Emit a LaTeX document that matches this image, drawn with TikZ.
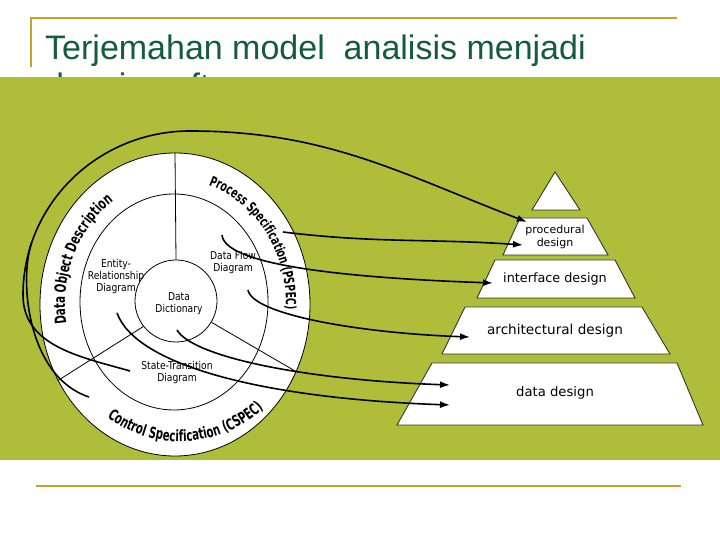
\documentclass[tikz,border=0pt]{standalone}
\usepackage{fontspec}
\setmainfont{Liberation Sans}
\newfontfamily\titlefamily{Liberation Sans}
\newfontfamily\diafamily{DejaVu Sans}
\newfontfamily\condfamily{DejaVu Sans}[FakeStretch=0.85]
\newfontfamily\ringfamily{DejaVu Sans Bold}[FakeStretch=0.66]
\usepackage{tikz}
\usetikzlibrary{shapes.geometric, arrows.meta, positioning, decorations.text}
\usepackage{xcolor}
\definecolor{cOlive}{RGB}{174,190,58}
\definecolor{cGold}{RGB}{201,162,42}
\definecolor{cTitle}{RGB}{20,92,62}
\newcommand\ringbig{\ringfamily\fontsize{15.5}{17}\selectfont}
\newcommand\ringsmall{\ringfamily\fontsize{14}{16}\selectfont}
\tikzset{
  goldline/.style={draw=cGold, line width=2.6pt},
  ringline/.style={draw=black, line width=0.8pt},
  tier/.style={draw=black!80, line width=0.9pt, fill=white},
  circlabel/.style={align=center, inner sep=0pt,
                    font=\condfamily\fontsize{10.8}{12}\selectfont},
  tierlabel/.style={align=center, inner sep=0pt,
                    font=\diafamily\fontsize{#1}{13.5}\selectfont},
  flowline/.style={draw=black, line width=1.6pt},
  flow/.style={flowline, -{Latex[length=10pt, width=7pt]}},
  ringtext/.style={decorate, decoration={text along path,
                   text align=center, text={#1}}}
}

\begin{document}
\begin{tikzpicture}[x=1pt, y=1pt]
  \useasboundingbox (0,0) rectangle (720,540);
  \fill[white] (0,0) rectangle (720,540);

  % title, second line hidden by the green panel
  \node[anchor=base west, inner sep=0pt, text=cTitle,
        font=\titlefamily\fontsize{34}{40}\selectfont] (title2) at (45,442) {desain software};
  \fill[cOlive] (0,80) rectangle (720,463);
  \node[anchor=base west, inner sep=0pt, text=cTitle,
        font=\titlefamily\fontsize{34}{40}\selectfont] (title) at (45,480) {Terjemahan model\ \ analisis menjadi};
  \draw[goldline] (31,473) -- (31,522) -- (677,522);
  \draw[goldline] (36,54) -- (681,54);

  % analysis model
  \node[ellipse, ringline, fill=white, minimum width=270pt, minimum height=303pt,
        inner sep=0pt] (outer) at (175,235.5) {};
  \node[ellipse, ringline, minimum width=188pt, minimum height=216pt,
        inner sep=0pt] (mid) at (174,238) {};
  \node[circle, ringline, minimum size=82pt, inner sep=0pt] (dict) at (176,239) {};
  \draw[ringline] (outer.north) -- (dict.north);
  \draw[ringline] (dict.218) -- (outer.213);
  \draw[ringline] (dict.329) -- (outer.331);

  \node[circlabel] (erdText) at (116,263) {Entity-\\Relationship\\Diagram};
  \node[circlabel] (dfdText) at (233,277) {Data Flow\\Diagram};
  \node[circlabel] (ddText) at (179,236) {Data\\Dictionary};
  \node[circlabel] (stdText) at (177,167.5) {State-Transition\\Diagram};

  \path[ringtext={|\ringbig|Data Object Description}]
    (outer.center) ++(200:110 and 125)
    arc[start angle=200, end angle=112, x radius=110, y radius=125];
  \path[ringtext={|\ringsmall|Process Specification (PSPEC)}]
    (outer.center) ++(82:111 and 125)
    arc[start angle=82, end angle=-11, x radius=111, y radius=125];
  \path[ringtext={|\ringbig|Control Specification (CSPEC)}]
    ([xshift=5pt]outer.center) ++(226:128 and 137)
    arc[start angle=226, end angle=320, x radius=128, y radius=137];

  % design model
  \draw[tier] (555,368) -- (580,330) -- (532,330) -- cycle;
  \draw[tier] (520,322) -- (587,322) -- (608,285) -- (503,285) -- cycle;
  \draw[tier] (495,280) -- (615,280) -- (635,242) -- (477,242) -- cycle;
  \draw[tier] (465,233) -- (642,233) -- (670,186) -- (442,186) -- cycle;
  \draw[tier] (432,177) -- (677,177) -- (703,115) -- (397,115) -- cycle;

  \node[tierlabel=11] (procText) at (555,303) {procedural\\design};
  \node[tierlabel=12.8] (ifaceText) at (555,261) {interface design};
  \node[tierlabel=13.6] (archText) at (555,209) {architectural design};
  \node[tierlabel=13.2] (dataText) at (555,147) {data design};

  % connector ends
  \coordinate (pspecEnd) at (283,308);
  \coordinate (dfdA) at (222,305);
  \coordinate (dfdB) at (248,250);
  \coordinate (ddEnd) at (177,210);
  \coordinate (erdEnd) at (117,227);
  \coordinate (stdEnd) at (130,169);
  \coordinate (cspecEnd) at (89,143);
  \coordinate (leftTurn) at (23,245);
  \coordinate (arcTop) at (190,409);
  \coordinate (joinPt) at (31.7,297.4);
  \coordinate (procTop) at (527,318);
  \coordinate (procLeft) at (523,295);
  \coordinate (ifaceLeft) at (493,257);
  \coordinate (archLeft) at (470,203);
  \coordinate (dataUp) at (450,155);
  \coordinate (dataLow) at (450,135);

  \draw[flow] (pspecEnd) to[out=-7, in=176] (procLeft);
  \draw[flow] (dfdA) to[out=-85, in=178, out distance=30pt, in distance=150pt] (ifaceLeft);
  \draw[flow] (dfdB) to[out=-80, in=178, out distance=25pt, in distance=110pt] (archLeft);
  \draw[flow] (ddEnd) to[out=-60, in=178, out distance=30pt, in distance=150pt] (dataUp);
  \draw[flow] (erdEnd) to[out=-70, in=178, out distance=55pt, in distance=190pt] (dataLow);
  \draw[flow] (stdEnd) to[out=164, in=-90] (leftTurn) to[out=90, in=180] (arcTop)
    to[out=0, in=159] (procTop);
  \draw[flowline] (cspecEnd) to[out=162, in=-109, in distance=40pt] (joinPt);
\end{tikzpicture}
\end{document}
